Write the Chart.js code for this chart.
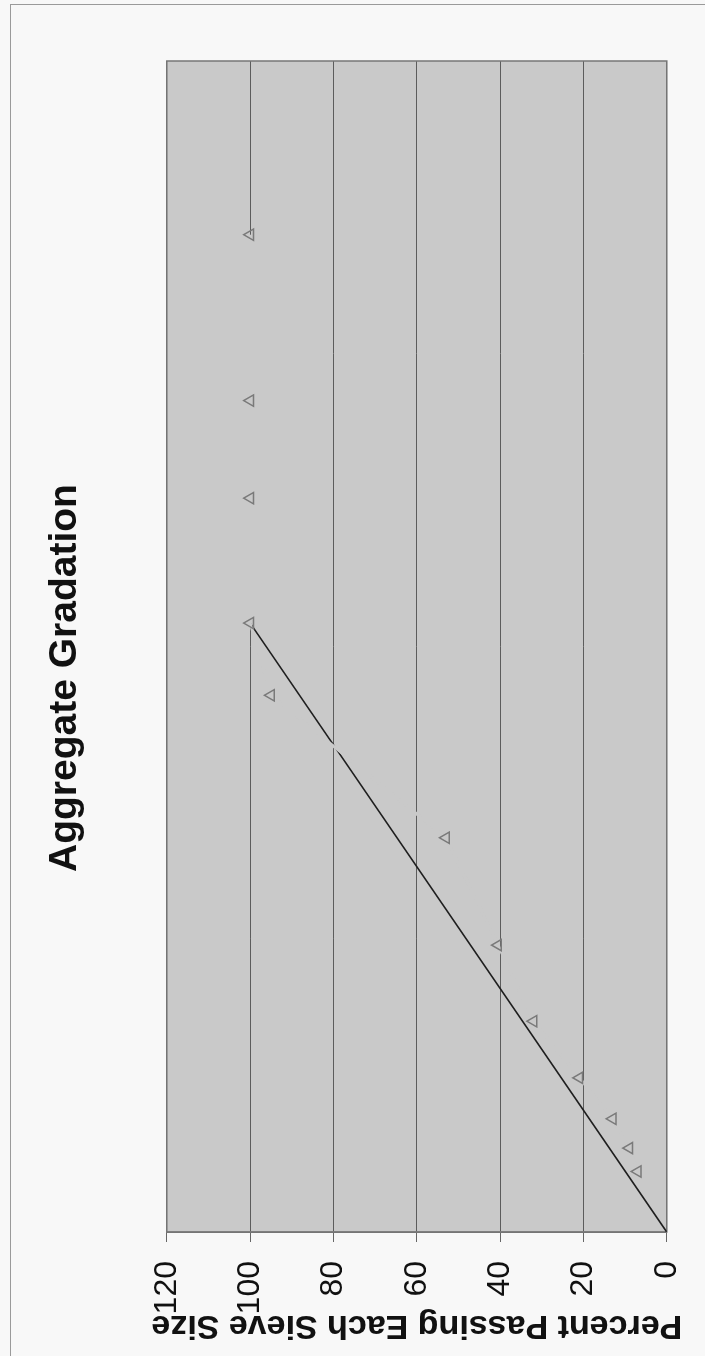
<!DOCTYPE html>
<html>
<head>
<meta charset="utf-8">
<script src="https://cdn.jsdelivr.net/npm/chart.js@4/dist/chart.umd.min.js"></script>
<style>
  html, body { margin: 0; padding: 0; background: #f8f8f8; width: 705px; height: 1356px; overflow: hidden; }
  #frame { position: absolute; left: 10px; top: 4px; width: 700px; height: 1360px; border-left: 1px solid #9a9a9a; border-top: 1px solid #9a9a9a; box-sizing: border-box; }
  #wrap { position: absolute; left: 0; top: 0; width: 1356px; height: 705px; transform-origin: 0 0; transform: translate(0px, 1356px) rotate(-90deg); }
</style>
</head>
<body>
<div id="frame"></div>
<div id="wrap"><canvas id="c" width="1356" height="705"></canvas></div>
<script>
// Sieve size positions on the 0.45-power axis (sieve mm ^ 0.45): 0.075 ... 37.5 mm
const sievePositions = [0.31, 0.43, 0.58, 0.79, 1.08, 1.47, 2.02, 2.75, 3.12, 3.76, 4.26, 5.11];
// Percent passing each sieve
const percentPassing = [7, 9, 13, 21, 32, 40.5, 53, 95, 100, 100, 100, 100];
// Maximum density line
const maxDensityX = [0, 3.12];
const maxDensityY = [0, 100];
// Value axis ticks
const yTicks = [0, 20, 40, 60, 80, 100, 120];

const PLOT_BG = '#c9c9c9';
const FONT = 'Liberation Sans, Arial, sans-serif';

const plotBg = {
  id: 'plotBg',
  beforeDraw(chart) {
    const {ctx, chartArea: a} = chart;
    ctx.save();
    ctx.fillStyle = PLOT_BG;
    ctx.fillRect(a.left, a.top, a.right - a.left, a.bottom - a.top);
    ctx.restore();
  },
  beforeDatasetsDraw(chart) {
    const {ctx, chartArea: a} = chart;
    ctx.save();
    ctx.strokeStyle = '#767676';
    ctx.lineWidth = 1.5;
    ctx.strokeRect(a.left, a.top, a.right - a.left, a.bottom - a.top);
    ctx.restore();
  }
};

new Chart(document.getElementById('c'), {
  type: 'scatter',
  data: {
    datasets: [
      {
        label: 'Gradation',
        data: sievePositions.map((x, i) => ({x, y: percentPassing[i]})),
        showLine: true,
        borderColor: PLOT_BG,
        borderWidth: 3,
        pointStyle: 'triangle',
        pointRadius: 6.5,
        pointBorderColor: '#7a7a7a',
        pointBorderWidth: 1.5,
        pointBackgroundColor: 'rgba(0,0,0,0)'
      },
      {
        label: 'Maximum Density Line',
        data: maxDensityX.map((x, i) => ({x, y: maxDensityY[i]})),
        showLine: true,
        borderColor: '#1e1e1e',
        borderWidth: 1.6,
        pointRadius: 0
      }
    ]
  },
  options: {
    responsive: false,
    animation: false,
    devicePixelRatio: 1,
    layout: { padding: { left: 0, right: 0, top: 0, bottom: 33 } },
    plugins: {
      legend: { display: false },
      tooltip: { enabled: false },
      title: {
        display: true,
        text: 'Aggregate Gradation',
        color: '#111',
        font: { family: FONT, size: 39, weight: 'bold' },
        padding: { top: 42, bottom: 78 }
      }
    },
    scales: {
      x: {
        type: 'linear',
        min: 0,
        max: 6,
        display: false
      },
      y: {
        type: 'linear',
        min: 0,
        max: 120,
        afterBuildTicks(scale) { scale.ticks = yTicks.map(v => ({value: v})); },
        afterFit(scale) { scale.width = 124; },
        ticks: {
          color: '#111',
          font: { family: FONT, size: 32 },
          padding: 19
        },
        grid: {
          color: '#5c5c5c',
          lineWidth: 1,
          drawTicks: true,
          tickLength: 10,
          tickColor: '#666'
        },
        border: { display: true, color: '#767676', width: 1.5 },
        title: {
          display: true,
          text: 'Percent Passing Each Sieve Size',
          color: '#111',
          font: { family: FONT, size: 34, weight: 'bold' },
          padding: { top: 10, bottom: 0 }
        }
      },
      yRightSpace: {
        type: 'linear',
        position: 'right',
        min: 0,
        max: 120,
        afterFit(scale) { scale.width = 61; },
        ticks: { display: false },
        grid: { display: false, drawTicks: false },
        border: { display: false }
      }
    }
  },
  plugins: [plotBg]
});
</script>
</body>
</html>
